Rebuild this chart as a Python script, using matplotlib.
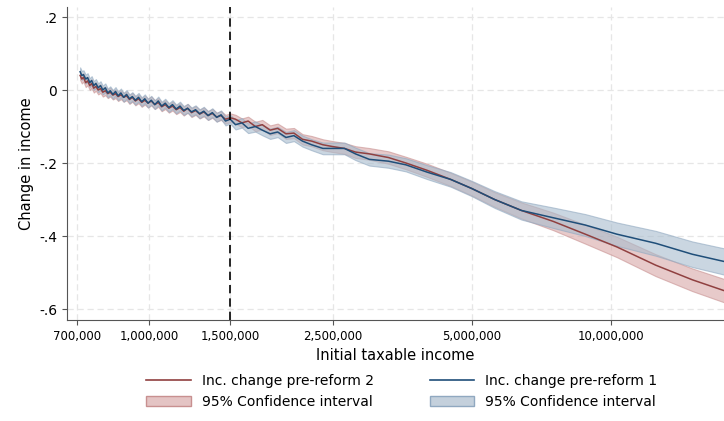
import numpy as np
import matplotlib.pyplot as plt
from matplotlib.patches import Patch
from matplotlib.lines import Line2D

# income in thousands
x_k = [710, 716, 722, 730, 737, 745, 752, 760, 768, 777, 786, 795, 805, 815, 825, 836,
       847, 858, 870, 882, 895, 908, 921, 935, 950, 965, 980, 996, 1012, 1030, 1048,
       1066, 1085, 1105, 1125, 1146, 1168, 1190, 1213, 1237, 1262, 1288, 1315, 1343,
       1372, 1402, 1433, 1465, 1500,
       1540, 1590, 1640, 1700, 1760, 1830, 1900, 1980, 2060, 2150, 2250, 2380, 2500,
       2650, 2800, 3000, 3300, 3600, 4000, 4500, 5000, 5600, 6400, 7500, 8800, 10300,
       12500, 15000, 17600]
red = [.04, .03, .035, .02, .025, .012, .018, .005, .01, 0, .004, -.006, -.002, -.01,
       -.006, -.014, -.01, -.018, -.013, -.02, -.016, -.026, -.02, -.03, -.024, -.034,
       -.028, -.036, -.03, -.04, -.034, -.046, -.04, -.05, -.044, -.054, -.048, -.058,
       -.05, -.062, -.056, -.066, -.06, -.07, -.064, -.074, -.07, -.08, -.076,
       -.08, -.09, -.085, -.1, -.095, -.11, -.105, -.12, -.118, -.135, -.14, -.15, -.155,
       -.16, -.17, -.175, -.185, -.2, -.22, -.245, -.27, -.3, -.33, -.36, -.395, -.43,
       -.48, -.52, -.55]
blue = [.05, .04, .042, .03, .034, .02, .026, .012, .018, .006, .012, 0, .006, -.008,
        -.002, -.012, -.004, -.016, -.008, -.02, -.012, -.024, -.018, -.028, -.02,
        -.032, -.024, -.036, -.028, -.04, -.03, -.044, -.036, -.048, -.04, -.052, -.044,
        -.056, -.05, -.06, -.054, -.065, -.058, -.07, -.062, -.075, -.068, -.085, -.08,
        -.095, -.09, -.105, -.1, -.11, -.12, -.115, -.13, -.125, -.14, -.15, -.16, -.16,
        -.16, -.175, -.19, -.195, -.205, -.225, -.245, -.27, -.3, -.33, -.35, -.37, -.395,
        -.42, -.45, -.47]
red_se = [.012] * 49 + [.012, .012, .012, .013, .013, .013, .013, .014, .014, .014, .014,
                        .015, .015, .015, .016, .016, .017, .017, .018, .018, .019, .02,
                        .022, .024, .026, .028, .03, .031, .032]
blue_se = [.012] * 49 + [.013, .013, .013, .014, .014, .014, .014, .015, .015, .015, .015,
                         .016, .016, .016, .017, .017, .018, .018, .019, .02, .021, .023,
                         .025, .028, .03, .032, .034, .035, .036]

xticks = [700000, 1000000, 1500000, 2500000, 5000000, 10000000]
yticks = [.2, 0, -.2, -.4, -.6]

RED = '#904040'
BLUE = '#1f4e79'

x = np.array(x_k) * 1000
red, blue = np.array(red), np.array(blue)
red_se, blue_se = np.array(red_se), np.array(blue_se)

fig = plt.figure(figsize=(7.24, 4.21), dpi=100)
ax = fig.add_axes([0.0925, 0.24, 0.9075, 0.743])

ax.fill_between(x, red - red_se, red + red_se, color='#d8a8a8', alpha=0.6, lw=0.8, edgecolor='#c89090')
ax.fill_between(x, blue - blue_se, blue + blue_se, color='#a8bccd', alpha=0.6, lw=0.8, edgecolor='#90a8c0')
ax.plot(x, red, color=RED, lw=1.1)
ax.plot(x, blue, color=BLUE, lw=1.1)
ax.axvline(1500000, color='black', ls=(0, (5, 3)), lw=1.2)

ax.set_xscale('log')
ax.set_xlim(665000, 17560000)
ax.set_ylim(-0.63, 0.227)
ax.set_xticks(xticks)
ax.set_xticklabels([f'{v:,}' for v in xticks], fontsize=8.5)
ax.minorticks_off()
ax.set_yticks(yticks)
ax.set_yticklabels(['.2', '0', '-.2', '-.4', '-.6'], fontsize=10)
ax.tick_params(color='#555555')
ax.grid(True, color='#e6e6e6', ls=(0, (5, 3)), lw=0.9)
ax.set_axisbelow(True)
for s in ['top', 'right']:
    ax.spines[s].set_visible(False)
for s in ['left', 'bottom']:
    ax.spines[s].set_color('#555555')
ax.set_xlabel('Initial taxable income', fontsize=10.5)
ax.set_ylabel('Change in income', fontsize=10.5)

handles = [Line2D([], [], color=RED, lw=1.2),
           Patch(facecolor='#e4c4c4', edgecolor='#c89090'),
           Line2D([], [], color=BLUE, lw=1.2),
           Patch(facecolor='#c4d0dc', edgecolor='#90a8c0')]
labels = ['Inc. change pre-reform 2', '95% Confidence interval',
          'Inc. change pre-reform 1', '95% Confidence interval']
fig.legend(handles, labels, ncol=2, loc='lower center', bbox_to_anchor=(0.555, 0.0),
           frameon=False, fontsize=10, columnspacing=4, handlelength=3.2)

fig.savefig('out.png', dpi=100)
